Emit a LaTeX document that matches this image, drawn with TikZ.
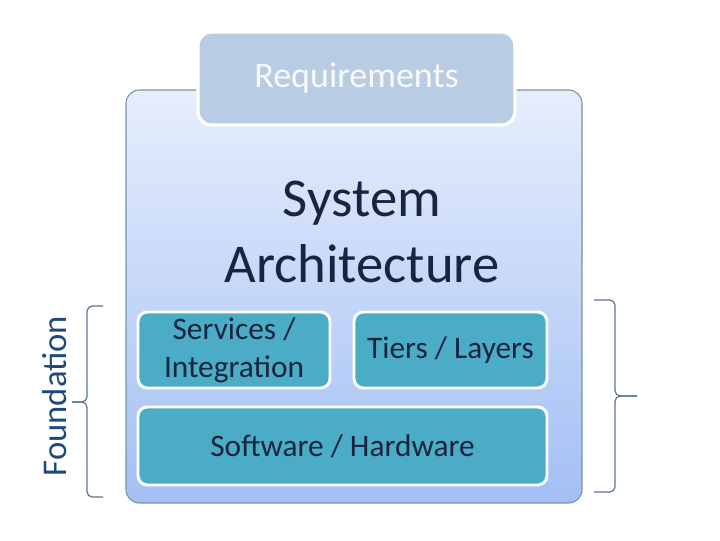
\documentclass[tikz,border=0pt]{standalone}
\usepackage{fontspec}
\setmainfont{Carlito}
\begin{document}
\begin{tikzpicture}[x=0.75pt,y=-0.75pt,
  inner/.style={draw=white,line width=2.2pt,rounded corners=7pt,fill=teal1},
  brk/.style={draw=brkc,line width=0.9pt,rounded corners=4pt}]
\definecolor{teal1}{HTML}{4BACC6}
\definecolor{brkc}{HTML}{5B7590}
\definecolor{topc}{HTML}{E6EEFC}
\definecolor{botc}{HTML}{A3BFF4}
\definecolor{txt}{HTML}{1A2340}
\definecolor{reqc}{HTML}{B8CCE4}
\definecolor{fndc}{HTML}{1F497D}
\useasboundingbox (0,0) rectangle (720,540);
\path[top color=topc,bottom color=botc,draw=brkc!80,line width=0.8pt,rounded corners=10pt] (126,90) rectangle (582,503);
\node[draw=white,line width=2.5pt,rounded corners=10pt,fill=reqc,minimum width=237.75pt,minimum height=69.75pt,font=\fontsize{27}{30}\selectfont,text=white!95!gray] (req) at (356.5,78.5) {Requirements};
\node[align=center,text=txt,font=\fontsize{41}{49}\selectfont] (sa) at (362,232) {System\\Architecture};
\node[inner,minimum width=144pt,minimum height=57pt,align=center,text=txt,font=\fontsize{23.5}{28.5}\selectfont] (svc) at (234,350) {Services /\\Integration};
\node[inner,minimum width=144.75pt,minimum height=57pt,text=txt,font=\fontsize{23.5}{28.5}\selectfont] (tier) at (450.5,350) {Tiers / Layers};
\node[inner,minimum width=306.75pt,minimum height=58.5pt,text=txt,font=\fontsize{23.5}{28.5}\selectfont] (sw) at (342.5,446) {Software / Hardware};
\node[rotate=90,text=fndc,font=\fontsize{26}{30}\selectfont] (fnd) at (55,396) {Foundation};
\draw[brk] (103,306) -- (87,306) -- (87,402) -- (72,402);
\draw[brk] (72,402) -- (87,402) -- (87,497) -- (103,497);
\draw[brk] (594,300) -- (615,300) -- (615,396) -- (637,396);
\draw[brk] (637,396) -- (615,396) -- (615,492) -- (594,492);
\end{tikzpicture}
\end{document}
